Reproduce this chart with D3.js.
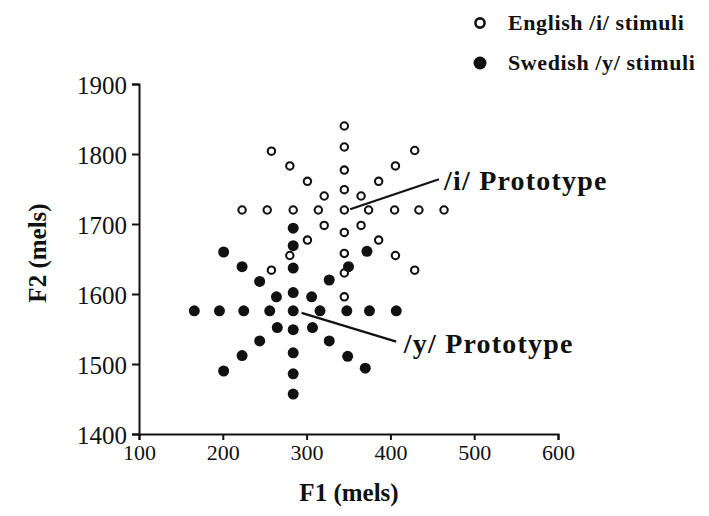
<!DOCTYPE html>
<html>
<head>
<meta charset="utf-8">
<script src="https://cdn.jsdelivr.net/npm/d3@7"></script>
<style>
  body { margin: 0; background: #fff; }
  svg { display: block; }
  text { font-family: "Liberation Serif", "Times New Roman", serif; fill: #111; }
</style>
</head>
<body>
<svg id="chart"></svg>
<script>
// English /i/ stimuli (open circles), star pattern round the prototype
const englishF1 = [223, 253, 284, 314, 345, 374, 405, 434, 464,
                   345, 345, 345, 345, 345, 345, 345, 345,
                   321, 301, 280, 258, 365, 386, 406, 429,
                   365, 386, 406, 429, 321, 301, 280, 258];
const englishF2 = [1720, 1720, 1720, 1720, 1720, 1720, 1720, 1720, 1720,
                   1840, 1810, 1777, 1749, 1688, 1658, 1630, 1596,
                   1740, 1761, 1783, 1804, 1698, 1677, 1655, 1634,
                   1740, 1761, 1783, 1805, 1698, 1677, 1655, 1634];

// Swedish /y/ stimuli (filled circles)
const swedishF1 = [166, 196, 225, 256, 284, 316, 348, 375, 407,
                   284, 284, 284, 284, 284, 284, 284, 284,
                   264, 244, 223, 201, 307, 327, 349, 370,
                   306, 327, 350, 372, 265, 244, 223, 201];
const swedishF2 = [1576, 1576, 1576, 1576, 1576, 1576, 1576, 1576, 1576,
                   1694, 1669, 1637, 1602, 1549, 1516, 1486, 1457,
                   1596, 1618, 1639, 1660, 1552, 1533, 1511, 1494,
                   1596, 1620, 1639, 1661, 1552, 1533, 1512, 1490];

const xTicks = [100, 200, 300, 400, 500, 600];
const yTicks = [1400, 1500, 1600, 1700, 1800, 1900];

// prototype pointers: [F1, F2] start, end, label anchor
const protoNames = ['/i/ Prototype', '/y/ Prototype'];
const protoStart = [[352, 1721], [294, 1573]];
const protoEnd = [[458, 1764], [407, 1532]];
const protoLabel = [[464, 1749], [416, 1516]];

const legendNames = ['English /i/ stimuli', 'Swedish /y/ stimuli'];

const width = 709, height = 516;

const svg = d3.select('#chart')
  .attr('width', width)
  .attr('height', height);

const x = d3.scaleLinear().domain([100, 600]).range([139, 558]);
const y = d3.scaleLinear().domain([1400, 1900]).range([434, 84]);

// axes
const xAxis = svg.append('g')
  .attr('transform', `translate(0, ${y(1400)})`)
  .call(d3.axisBottom(x).tickValues(xTicks).tickSize(6).tickPadding(4).tickFormat(d3.format('d')));

const yAxis = svg.append('g')
  .attr('transform', `translate(${x(100)}, 0)`)
  .call(d3.axisLeft(y).tickValues(yTicks).tickSize(7).tickPadding(5).tickFormat(d3.format('d')));

[xAxis, yAxis].forEach(g => {
  g.selectAll('path, line').attr('stroke', '#111').attr('stroke-width', 2);
  g.selectAll('text')
    .style('font-family', '"Liberation Serif", serif')
    .attr('fill', '#111');
});
xAxis.selectAll('text').style('font-size', '22px');
yAxis.selectAll('text').style('font-size', '25px').attr('dy', '0.36em');

// axis titles
svg.append('text')
  .attr('x', 349)
  .attr('y', 501)
  .attr('text-anchor', 'middle')
  .style('font-size', '25px')
  .style('font-weight', 'bold')
  .text('F1 (mels)');

svg.append('text')
  .attr('transform', 'translate(46, 253) rotate(-90)')
  .attr('text-anchor', 'middle')
  .style('font-size', '25px')
  .style('font-weight', 'bold')
  .text('F2 (mels)');

// points
const english = englishF1.map((d, i) => ({f1: d, f2: englishF2[i]}));
const swedish = swedishF1.map((d, i) => ({f1: d, f2: swedishF2[i]}));

svg.append('g').selectAll('circle')
  .data(english)
  .enter()
  .append('circle')
  .attr('cx', d => x(d.f1))
  .attr('cy', d => y(d.f2))
  .attr('r', 3.7)
  .attr('fill', '#fff')
  .attr('stroke', '#111')
  .attr('stroke-width', 2.1);

svg.append('g').selectAll('circle')
  .data(swedish)
  .enter()
  .append('circle')
  .attr('cx', d => x(d.f1))
  .attr('cy', d => y(d.f2))
  .attr('r', 5.5)
  .attr('fill', '#111');

// prototype pointers and labels
protoNames.forEach((name, i) => {
  svg.append('line')
    .attr('x1', x(protoStart[i][0]))
    .attr('y1', y(protoStart[i][1]))
    .attr('x2', x(protoEnd[i][0]))
    .attr('y2', y(protoEnd[i][1]))
    .attr('stroke', '#111')
    .attr('stroke-width', 2.2);

  svg.append('text')
    .attr('x', x(protoLabel[i][0]))
    .attr('y', y(protoLabel[i][1]))
    .style('font-size', '28px')
    .style('font-weight', 'bold')
    .style('letter-spacing', '1.2px')
    .text(name);
});

// legend
const legend = svg.append('g');
legendNames.forEach((name, i) => {
  const cy = 23 + i * 40;
  if (i === 0) {
    legend.append('circle')
      .attr('cx', 480).attr('cy', cy).attr('r', 4.6)
      .attr('fill', '#fff').attr('stroke', '#111').attr('stroke-width', 2.6);
  } else {
    legend.append('circle')
      .attr('cx', 480).attr('cy', cy).attr('r', 6.5)
      .attr('fill', '#111');
  }
  legend.append('text')
    .attr('x', 508)
    .attr('y', cy + 7)
    .style('font-size', '22px')
    .style('font-weight', 'bold')
    .style('letter-spacing', '0.6px')
    .text(name);
});
</script>
</body>
</html>
